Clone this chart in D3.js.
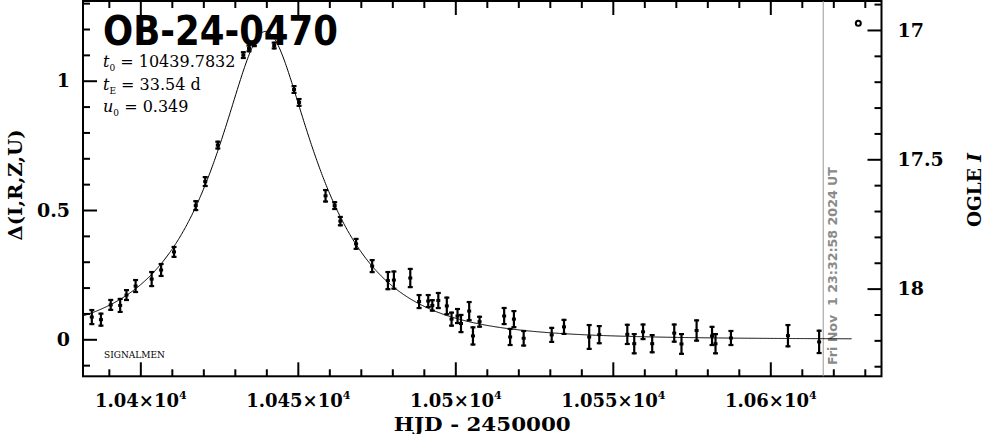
<!DOCTYPE html>
<html>
<head>
<meta charset="utf-8">
<script src="https://cdn.jsdelivr.net/npm/d3@7"></script>
<style>
  html, body { margin: 0; padding: 0; background: #fff; }
  svg { display: block; }
</style>
</head>
<body>
<svg id="chart" width="986" height="434" font-family="DejaVu Serif"></svg>
<script>
// ---- Data ----
const hjd = [10384.6, 10387.5, 10390.6, 10393.6, 10395.6, 10398.5, 10403.6, 10406.6, 10410.7,
  10417.6, 10420.6, 10424.6, 10432.7, 10434.5, 10436.2, 10442.5, 10448.8, 10450.4,
  10458.8, 10461.7, 10463.5, 10468.5, 10473.6, 10478.6, 10480.5, 10485.7, 10488.5,
  10491.4, 10492.7, 10494.6, 10497.3, 10498.8, 10500.7, 10501.8, 10504.4, 10505.6,
  10507.7, 10515.5, 10517.4, 10518.6, 10521.7, 10530.6, 10534.5, 10542.5, 10545.7,
  10554.6, 10556.8, 10559.6, 10562.5, 10569.5, 10571.8, 10576.6, 10581.5, 10582.6,
  10587.5, 10605.6, 10615.5];
const delta = [0.086, 0.076, 0.133, 0.131, 0.171, 0.206, 0.233, 0.268, 0.338,
  0.517, 0.610, 0.751, 1.099, 1.125, 1.142, 1.136, 0.966, 0.916,
  0.555, 0.517, 0.457, 0.369, 0.283, 0.227, 0.229, 0.237, 0.146,
  0.148, 0.131, 0.150, 0.129, 0.078, 0.090, 0.061, 0.109, 0.013,
  0.068, 0.090, 0.009, 0.078, 0.004, 0.017, 0.048, 0.009, 0.018,
  0.019, -0.017, 0.029, -0.017, 0.024, -0.018, 0.034, 0.013, -0.017,
  0.005, 0.014, -0.010];
const err = [0.031, 0.027, 0.023, 0.029, 0.023, 0.027, 0.031, 0.027, 0.023,
  0.021, 0.021, 0.017, 0.015, 0.015, 0.012, 0.015, 0.017, 0.017,
  0.026, 0.017, 0.020, 0.023, 0.027, 0.037, 0.037, 0.039, 0.029,
  0.027, 0.024, 0.033, 0.036, 0.029, 0.031, 0.037, 0.039, 0.037,
  0.023, 0.035, 0.035, 0.035, 0.032, 0.031, 0.031, 0.050, 0.037,
  0.041, 0.041, 0.032, 0.037, 0.037, 0.042, 0.043, 0.039, 0.041,
  0.031, 0.045, 0.047];

// Fit parameters shown on the chart
const t0 = 10439.7832, tE = 33.54, u0 = 0.349;
const modelEnd = 10626;          // model line stops here in the reference
const markerDay = 10616.8;       // grey "now" line
const stamp = "Fri Nov  1 23:32:58 2024 UT";

const xMajor = [10400, 10450, 10500, 10550, 10600];
const xMajorLabels = ["1.04", "1.045", "1.05", "1.055", "1.06"];
const yMajor = [0, 0.5, 1];
const yMajorLabels = ["0", "0.5", "1"];
const magMajor = [17, 17.5, 18];
const magMajorLabels = ["17", "17.5", "18"];

// ---- Layout ----
const L = 83, R = 881.5, T = 1, B = 376.3;
const svg = d3.select("#chart");

const x = d3.scaleLinear().domain([10381.8, 10635.3]).range([L, R]);
const y = d3.scaleLinear().domain([-0.1431, 1.3083]).range([B, T]);
const ym = d3.scaleLinear().domain([18.339, 16.888]).range([B, T]);

const MAJ = 14, MIN = 7;
const inDom = (s) => v => v >= Math.min(...s.domain()) && v <= Math.max(...s.domain());
const xMinor = d3.range(10390, 10640, 10).filter(v => !xMajor.includes(v)).filter(inDom(x));
const yMinor = d3.range(-10, 14).map(v => v / 10).filter(v => !yMajor.includes(v)).filter(inDom(y));
const magMinor = d3.range(169, 184).map(v => v / 10).filter(v => !magMajor.includes(v)).filter(inDom(ym));

function styleAxis(g) {
  g.select(".domain").remove();
  g.attr("font-family", null).attr("font-size", null);
  g.selectAll(".tick line").attr("stroke", "#000").attr("stroke-width", 2);
}

// bottom
svg.append("g").attr("transform", `translate(0,${B})`)
  .call(d3.axisBottom(x).tickValues(xMinor).tickSize(-MIN).tickFormat(""))
  .call(styleAxis);
const bx = svg.append("g").attr("transform", `translate(0,${B})`)
  .call(d3.axisBottom(x).tickValues(xMajor).tickSize(-MAJ).tickPadding(17).tickFormat((d, i) => xMajorLabels[i]))
  .call(styleAxis);
bx.selectAll(".tick text").each(function(d, i) {
  const t = d3.select(this);
  t.text(null).attr("font-size", 18).attr("font-family", "DejaVu Serif").attr("font-weight", "bold")
    .attr("dy", "0.75em");
  t.append("tspan").text(xMajorLabels[i] + "\u00d710");
  t.append("tspan").attr("font-size", 11).attr("dy", "-0.7em").text("4");
});
// top
svg.append("g").attr("transform", `translate(0,${T})`)
  .call(d3.axisTop(x).tickValues(xMinor).tickSize(-MIN).tickFormat(""))
  .call(styleAxis);
svg.append("g").attr("transform", `translate(0,${T})`)
  .call(d3.axisTop(x).tickValues(xMajor).tickSize(-MAJ).tickFormat(""))
  .call(styleAxis);
// left
svg.append("g").attr("transform", `translate(${L},0)`)
  .call(d3.axisLeft(y).tickValues(yMinor).tickSize(-MIN).tickFormat(""))
  .call(styleAxis);
svg.append("g").attr("transform", `translate(${L},0)`)
  .call(d3.axisLeft(y).tickValues(yMajor).tickSize(-MAJ).tickPadding(13).tickFormat((d, i) => yMajorLabels[i]))
  .call(styleAxis)
  .selectAll(".tick text").attr("font-size", 19).attr("font-weight", "bold");
// right (OGLE I)
svg.append("g").attr("transform", `translate(${R},0)`)
  .call(d3.axisRight(ym).tickValues(magMinor).tickSize(-MIN).tickFormat(""))
  .call(styleAxis);
svg.append("g").attr("transform", `translate(${R},0)`)
  .call(d3.axisRight(ym).tickValues(magMajor).tickSize(-MAJ).tickPadding(16).tickFormat((d, i) => magMajorLabels[i]))
  .call(styleAxis)
  .selectAll(".tick text").attr("font-size", 19).attr("font-weight", "bold");

// frame
svg.append("rect").attr("x", L).attr("y", T).attr("width", R - L).attr("height", B - T)
  .attr("fill", "none").attr("stroke", "#000").attr("stroke-width", 2);

// grey marker line
svg.append("line").attr("x1", x(markerDay)).attr("x2", x(markerDay)).attr("y1", T).attr("y2", B)
  .attr("stroke", "#999").attr("stroke-width", 1);
svg.append("text")
  .attr("transform", `translate(${x(markerDay) + 14},365) rotate(-90)`)
  .attr("font-family", "DejaVu Sans").attr("font-weight", "bold").attr("font-size", 12)
  .attr("fill", "#8a8a8a")
  .attr("textLength", 198).attr("lengthAdjust", "spacingAndGlyphs")
  .style("white-space", "pre")
  .text(stamp);

// model curve (Paczynski, from the parameters shown)
const modelDays = d3.range(10381.8, modelEnd + 0.001, 0.25);
const model = modelDays.map(t => {
  const tau = (t - t0) / tE;
  const u2 = u0 * u0 + tau * tau;
  const A = (u2 + 2) / (Math.sqrt(u2) * Math.sqrt(u2 + 4));
  return [t, 2.5 * Math.log10(A)];
});
svg.append("path").datum(model)
  .attr("fill", "none").attr("stroke", "#000").attr("stroke-width", 1)
  .attr("d", d3.line().x(d => x(d[0])).y(d => y(d[1])));

// data with error bars
const pts = hjd.map((t, i) => ({ t, d: delta[i], e: err[i] }));
const eg = svg.append("g").attr("stroke", "#000").attr("stroke-width", 2.2);
pts.forEach(p => {
  const cx = x(p.t), y1 = y(p.d + p.e), y2 = y(p.d - p.e);
  eg.append("line").attr("x1", cx).attr("x2", cx).attr("y1", y1).attr("y2", y2);
  eg.append("line").attr("x1", cx - 2.5).attr("x2", cx + 2.5).attr("y1", y1 + 1).attr("y2", y1 + 1);
  eg.append("line").attr("x1", cx - 2.5).attr("x2", cx + 2.5).attr("y1", y2 - 1).attr("y2", y2 - 1);
  svg.append("rect").attr("x", cx - 2).attr("y", y(p.d) - 1.5).attr("width", 4).attr("height", 3).attr("fill", "#000");
});

// legend circle
svg.append("circle").attr("cx", 858.3).attr("cy", 23.3).attr("r", 2.5)
  .attr("fill", "#fff").attr("stroke", "#000").attr("stroke-width", 2);

// title + params
svg.append("text").attr("x", 103).attr("y", 45)
  .attr("font-family", "DejaVu Sans").attr("font-weight", "bold").attr("font-size", 41)
  .attr("textLength", 235).attr("lengthAdjust", "spacingAndGlyphs")
  .text("OB-24-0470");

function param(yb, sym, sub, rest) {
  const t = svg.append("text").attr("x", 103).attr("y", yb).attr("font-size", 16);
  t.append("tspan").attr("font-style", "italic").text(sym);
  t.append("tspan").attr("font-size", 9).attr("dy", 4).text(sub);
  t.append("tspan").attr("dy", -4).text(rest);
}
param(67, "t", "0", " = 10439.7832");
param(90, "t", "E", " = 33.54 d");
param(112, "u", "0", " = 0.349");

svg.append("text").attr("x", 104).attr("y", 358).attr("font-size", 9)
  .attr("textLength", 61).attr("lengthAdjust", "spacingAndGlyphs")
  .text("SIGNALMEN");

// axis titles
svg.append("text").attr("x", (L + R) / 2).attr("y", 431).attr("text-anchor", "middle")
  .attr("font-size", 18).attr("font-weight", "bold")
  .attr("textLength", 177).attr("lengthAdjust", "spacingAndGlyphs")
  .text("HJD - 2450000");
svg.append("text").attr("transform", "translate(22,185) rotate(-90)").attr("text-anchor", "middle")
  .attr("font-size", 19).attr("font-weight", "bold")
  .attr("textLength", 111).attr("lengthAdjust", "spacingAndGlyphs")
  .text("\u0394(I,R,Z,U)");
const ot = svg.append("text").attr("transform", "translate(981,190) rotate(-90)").attr("text-anchor", "middle")
  .attr("font-size", 18).attr("font-weight", "bold")
  .attr("textLength", 74).attr("lengthAdjust", "spacingAndGlyphs");
ot.append("tspan").text("OGLE ");
ot.append("tspan").attr("font-style", "italic").text("I");
</script>
</body>
</html>
